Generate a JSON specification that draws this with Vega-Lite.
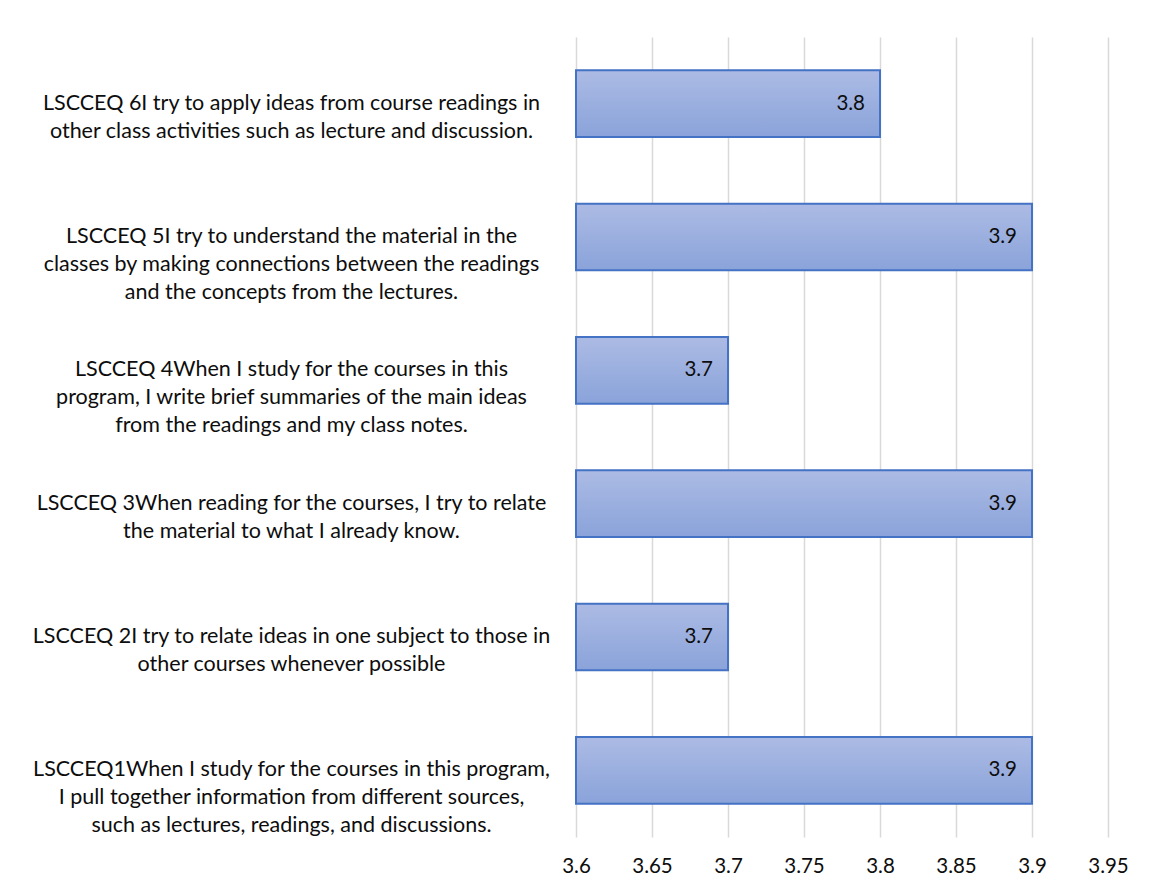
{
  "$schema": "https://vega.github.io/schema/vega-lite/v6.json",
  "width": 532,
  "height": 800,
  "autosize": {"type": "none"},
  "padding": {"left": 576, "top": 37, "right": 45, "bottom": 56},
  "background": "white",
  "data": {
    "values": [
      {"q": "LSCCEQ 6I try to apply ideas from course readings in|other class activities such as lecture and discussion.", "v": 3.8},
      {"q": "LSCCEQ 5I try to understand the material in the|classes by making connections between the readings|and the concepts from the lectures.", "v": 3.9},
      {"q": "LSCCEQ 4When I study for the courses in this|program, I write brief summaries of the main ideas|from the readings and my class notes.", "v": 3.7},
      {"q": "LSCCEQ 3When reading for the courses, I try to relate|the material to what I already know.", "v": 3.9},
      {"q": "LSCCEQ 2I try to relate ideas in one subject to those in|other courses whenever possible", "v": 3.7},
      {"q": "LSCCEQ1When I study for the courses in this program,|I pull together information from different sources,|such as lectures, readings, and discussions.", "v": 3.9}
    ]
  },
  "config": {
    "view": {"stroke": null},
    "font": "Lato"
  },
  "encoding": {
    "y": {
      "field": "q",
      "type": "nominal",
      "sort": null,
      "scale": {"paddingInner": 0.5, "paddingOuter": 0.25},
      "axis": {
        "title": null,
        "domain": false,
        "ticks": false,
        "labelAlign": "center",
        "labelBaseline": "middle",
        "labelPadding": 285,
        "labelLimit": 0,
        "labelFont": "Lato",
        "labelFontSize": 21.5,
        "labelLineHeight": 28,
        "labelColor": "#0d0d0d",
        "labelExpr": "split(datum.label, '|')"
      }
    },
    "x": {
      "field": "v",
      "type": "quantitative",
      "scale": {"domain": [3.6, 3.95], "nice": false, "zero": false},
      "axis": {
        "title": null,
        "values": [3.6, 3.65, 3.7, 3.75, 3.8, 3.85, 3.9, 3.95],
        "domain": false,
        "ticks": false,
        "grid": true,
        "gridColor": "#d9d9d9",
        "gridWidth": 1.5,
        "labelFont": "Lato",
        "labelFontSize": 20.5,
        "labelColor": "#0d0d0d",
        "labelPadding": 19,
        "labelFlush": false,
        "labelExpr": "format(datum.value, '.3~f')"
      }
    }
  },
  "layer": [
    {
      "mark": {
        "type": "bar",
        "stroke": "#4472c4",
        "strokeWidth": 2,
        "color": {
          "gradient": "linear",
          "x1": 0, "y1": 0, "x2": 0, "y2": 1,
          "stops": [
            {"offset": 0, "color": "#acbbe4"},
            {"offset": 1, "color": "#8aa3da"}
          ]
        }
      },
      "encoding": {
        "x2": {"datum": 3.6}
      }
    },
    {
      "mark": {"type": "text", "align": "right", "baseline": "middle", "dx": -15, "font": "Lato", "fontSize": 20.5, "color": "#0d0d0d"},
      "encoding": {
        "text": {"field": "v", "type": "quantitative", "format": ".1f"}
      }
    }
  ]
}
